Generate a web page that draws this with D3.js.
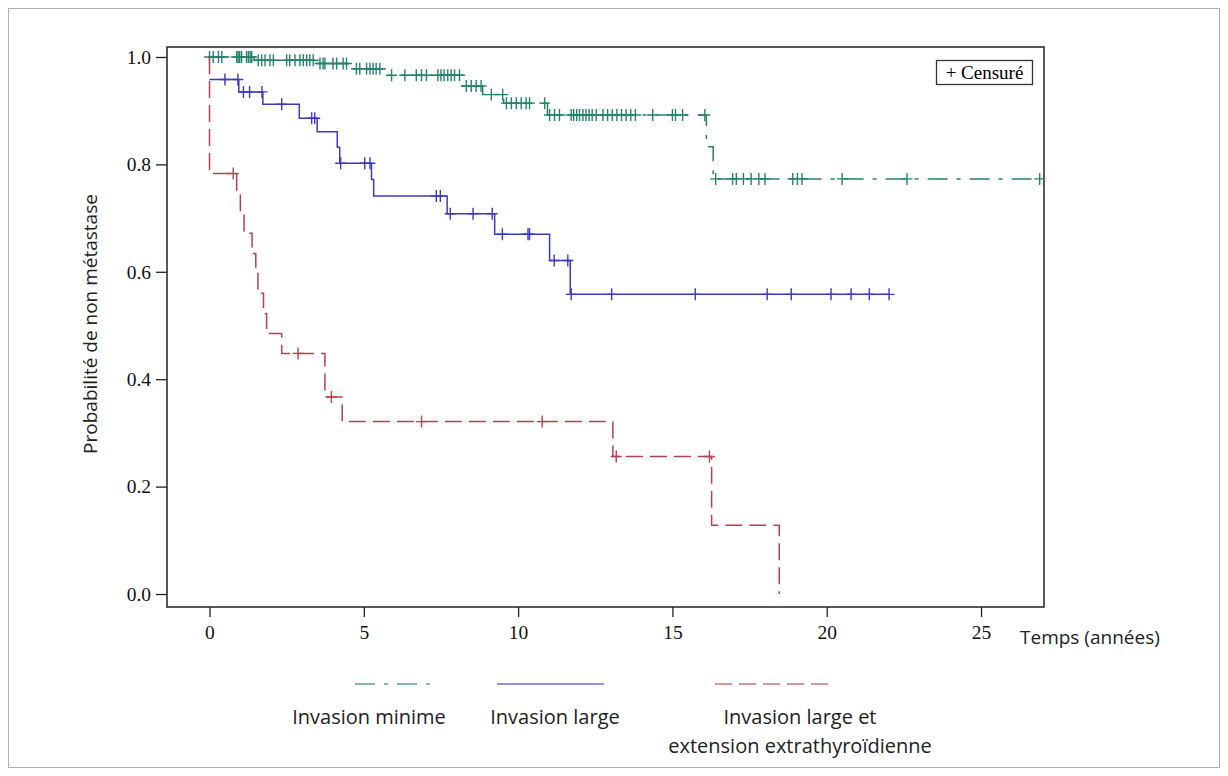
<!DOCTYPE html>
<html lang="fr">
<head>
<meta charset="UTF-8">
<title>Probabilité de non métastase</title>
<script src="https://cdn.jsdelivr.net/npm/d3@7/dist/d3.min.js"></script>
<style>
    body { margin: 0; background: #fff; }
    .tick text { font-family: "Liberation Serif", serif; font-size: 19.5px; fill: #111; }
    .tick line { stroke: #222; stroke-width: 1.3px; }
    .sans { font-family: "Open Sans", sans-serif; font-size: 19px; fill: #222; }
    .legend-text { font-family: "Open Sans", sans-serif; font-size: 20px; fill: #222; }
</style>
</head>
<body>
<div id="chart"></div>
<script>
    // --- data (time in years, survival probability) ---
    const xTicks = [0, 5, 10, 15, 20, 25];
    const yTicks = [0, 0.2, 0.4, 0.6, 0.8, 1.0];

    // Invasion minime
    const minTimes = [0, 1.45, 3.4, 4.6, 5.75, 8.2, 8.85, 9.53, 10.95, 16.1, 16.32];
    const minSurv  = [1.0, 0.994, 0.988, 0.978, 0.966, 0.946, 0.930, 0.914, 0.892, 0.833, 0.773];
    const minEnd = 26.9;
    const minCensor = [0, 0.12, 0.29, 0.4, 0.88, 0.93, 0.98, 1.04, 1.2, 1.26, 1.32, 1.37,
        1.58, 1.69, 1.8, 1.96, 2.07, 2.5, 2.6, 2.77, 2.93, 3.04, 3.15, 3.25, 3.36,
        3.58, 3.68, 3.74, 4.0, 4.12, 4.33, 4.44,
        4.76, 4.87, 5.09, 5.2, 5.3, 5.4, 5.52,
        5.9, 6.33, 6.7, 6.87, 7.03, 7.4, 7.5, 7.6, 7.72, 7.83, 7.94, 8.1,
        8.32, 8.48, 8.64, 8.8, 9.13, 9.5,
        9.62, 9.78, 9.94, 10.1, 10.26, 10.37, 10.86,
        11.02, 11.18, 11.34, 11.72, 11.8, 11.9, 11.99, 12.1, 12.2, 12.3, 12.4, 12.53,
        12.75, 12.9, 13.05, 13.2, 13.35, 13.5, 13.65, 13.8, 14.36, 15.0, 15.1, 15.33, 16.05,
        16.4, 16.95, 17.07, 17.3, 17.55, 17.8, 18.0, 18.9, 19.05, 19.2, 20.5, 22.6, 26.9];

    // Invasion large
    const largeTimes = [0, 0.95, 1.73, 2.91, 3.49, 4.14, 4.22, 5.25, 5.32, 7.7, 9.24, 11.02, 11.69];
    const largeSurv  = [0.958, 0.935, 0.912, 0.886, 0.861, 0.832, 0.802, 0.772, 0.741, 0.708, 0.670, 0.621, 0.558];
    const largeEnd = 22.02;
    const largeCensor = [0.5, 0.92, 1.1, 1.3, 1.7, 2.34, 3.31, 3.41, 4.25, 5.03, 5.2,
        7.35, 7.48, 7.8, 8.54, 9.16, 9.49, 10.32, 10.37, 11.17, 11.61, 11.72,
        13.03, 15.74, 18.07, 18.85, 20.14, 20.79, 21.38, 22.02];

    // Invasion large et extension extrathyroïdienne
    const extTimes = [0, 0, 0.88, 1.0, 1.12, 1.38, 1.5, 1.57, 1.75, 1.85, 2.34, 3.74, 4.3, 13.07, 16.27, 18.46];
    const extSurv  = [1.0, 0.783, 0.746, 0.709, 0.672, 0.634, 0.597, 0.560, 0.522, 0.485, 0.448, 0.367, 0.321, 0.256, 0.128, 0.0];
    const extEnd = 18.46;
    const extCensor = [0.77, 2.87, 3.95, 6.87, 10.78, 13.18, 16.2];

    const series = [
        { name: "Invasion minime", times: minTimes, surv: minSurv, end: minEnd, censor: minCensor,
          color: "#25836d", dash: "20,9,4,9" },
        { name: "Invasion large", times: largeTimes, surv: largeSurv, end: largeEnd, censor: largeCensor,
          color: "#3a3ac4", dash: null },
        { name: "Invasion large et extension extrathyroïdienne", times: extTimes, surv: extSurv, end: extEnd,
          censor: extCensor, color: "#b5414f", dash: "17,7" }
    ];

    const W = 1228, H = 776;
    const plot = { left: 167, top: 47, right: 1044, bottom: 607 };

    const svg = d3.select("#chart").append("svg")
        .attr("width", W)
        .attr("height", H);

    // outer border of the figure
    svg.append("rect")
        .attr("x", 8.5).attr("y", 8.5)
        .attr("width", W - 17).attr("height", H - 17)
        .attr("fill", "none").attr("stroke", "#b0b0b0");

    const x = d3.scaleLinear().domain([-1.377, 27.04]).range([plot.left, plot.right]);
    const y = d3.scaleLinear().domain([-0.0242, 1.0186]).range([plot.bottom, plot.top]);

    svg.append("g")
        .attr("transform", `translate(${plot.left},0)`)
        .call(d3.axisLeft(y).tickValues(yTicks).tickFormat(d3.format(".1f")).tickSize(11).tickPadding(5))
        .call(g => g.select(".domain").remove());

    svg.append("g")
        .attr("transform", `translate(0,${plot.bottom})`)
        .call(d3.axisBottom(x).tickValues(xTicks).tickSize(10).tickPadding(8))
        .call(g => g.select(".domain").remove());

    svg.append("rect")
        .attr("x", plot.left).attr("y", plot.top)
        .attr("width", plot.right - plot.left).attr("height", plot.bottom - plot.top)
        .attr("fill", "none").attr("stroke", "#222").attr("stroke-width", 1.5);

    const line = d3.line()
        .x(d => x(d[0]))
        .y(d => y(d[1]))
        .curve(d3.curveStepAfter);

    // survival value at time t (step function)
    function survAt(s, t) {
        let v = s.surv[0];
        s.times.forEach((tt, i) => { if (tt <= t) v = s.surv[i]; });
        return v;
    }

    series.forEach(s => {
        const pts = s.times.map((t, i) => [t, s.surv[i]]);
        if (s.end > s.times[s.times.length - 1]) pts.push([s.end, s.surv[s.surv.length - 1]]);

        svg.append("path")
            .datum(pts)
            .attr("d", line)
            .attr("fill", "none")
            .attr("stroke", s.color)
            .attr("stroke-width", 1.5)
            .attr("stroke-dasharray", s.dash);

        svg.append("g").selectAll("path")
            .data(s.censor)
            .join("path")
            .attr("d", t => {
                const cx = x(t), cy = y(survAt(s, t));
                return `M${cx - 5.5},${cy}h11M${cx},${cy - 6}v12`;
            })
            .attr("stroke", s.color)
            .attr("stroke-width", 1.4)
            .attr("fill", "none");
    });

    // "+ Censuré" box
    svg.append("rect")
        .attr("x", 936.5).attr("y", 60.5).attr("width", 96).attr("height", 24)
        .attr("fill", "#fff").attr("stroke", "#333").attr("stroke-width", 1.3);
    svg.append("text")
        .attr("x", 984.5).attr("y", 79)
        .attr("text-anchor", "middle")
        .style("font-family", "Liberation Serif, serif").style("font-size", "19px")
        .text("+ Censuré");

    // axis titles
    svg.append("text")
        .attr("class", "sans")
        .attr("transform", "translate(97,324) rotate(-90)")
        .attr("text-anchor", "middle")
        .text("Probabilité de non métastase");

    svg.append("text")
        .attr("class", "sans")
        .attr("x", 1020).attr("y", 644)
        .text("Temps (années)");

    // legend below the plot
    const legend = [
        { x1: 355, x2: 430, labels: ["Invasion minime"], cx: 369 },
        { x1: 497, x2: 604, labels: ["Invasion large"], cx: 555 },
        { x1: 715, x2: 832, labels: ["Invasion large et", "extension extrathyroïdienne"], cx: 800 }
    ];
    legend.forEach((l, i) => {
        svg.append("line")
            .attr("x1", l.x1).attr("x2", l.x2)
            .attr("y1", 684).attr("y2", 684)
            .attr("stroke", series[i].color)
            .attr("stroke-opacity", 0.75)
            .attr("stroke-width", 1.5)
            .attr("stroke-dasharray", series[i].dash);
        l.labels.forEach((t, j) => {
            svg.append("text")
                .attr("class", "legend-text")
                .attr("x", l.cx).attr("y", 724 + j * 29)
                .attr("text-anchor", "middle")
                .text(t);
        });
    });
</script>
</body>
</html>
